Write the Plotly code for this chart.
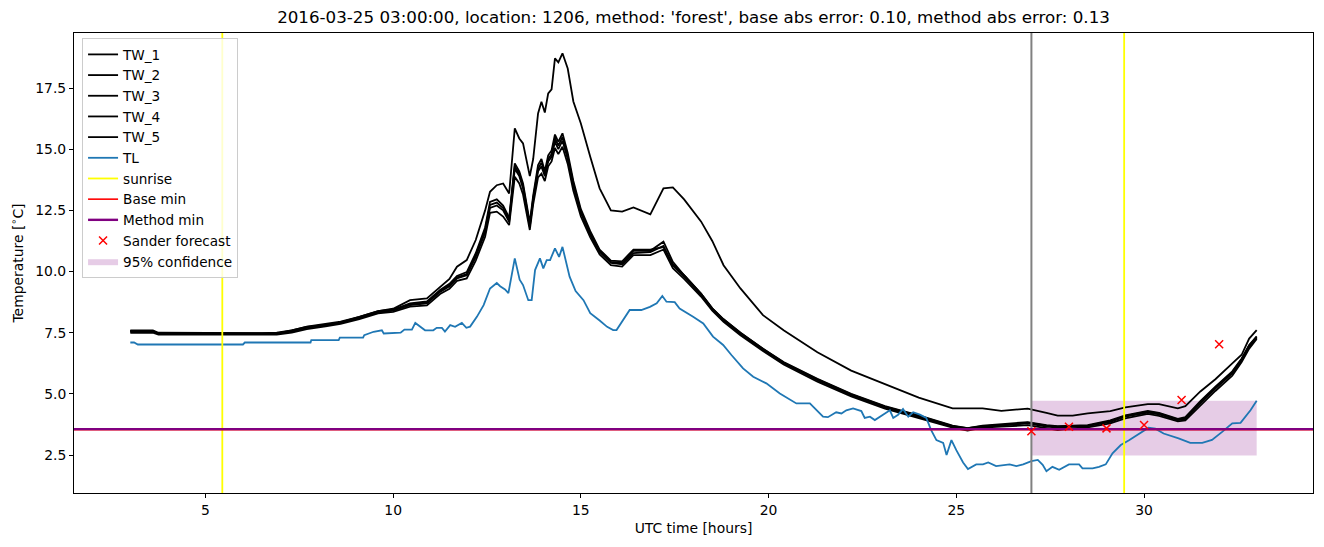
import plotly.graph_objects as go

# ---------------- data ----------------
T_TW = [3.0, 3.6, 3.75, 5.0, 6.5, 6.9, 7.3, 7.7, 8.2, 8.6, 9.1, 9.6, 10.0, 10.45, 10.9, 11.25, 11.5, 11.7,
        11.96, 12.2, 12.45, 12.58, 12.76, 12.93, 13.09, 13.24, 13.36, 13.46, 13.64, 13.73, 13.86, 13.95,
        14.04, 14.13, 14.22, 14.31, 14.4, 14.51, 14.65, 14.8, 15.0, 15.25, 15.5, 15.8, 16.1, 16.4, 16.85,
        17.2, 17.45, 17.75, 18.2, 18.5, 18.8, 19.25, 19.85, 20.4, 21.3, 22.2, 23.1, 24.0, 24.9, 25.3, 25.7,
        26.2, 26.9, 27.4, 27.7, 28.1, 28.5, 29.1, 29.5, 30.1, 30.4, 30.9, 31.1, 31.5, 31.9, 32.35, 32.6,
        32.8, 33.0]

TW_1 = [7.55, 7.55, 7.47, 7.46, 7.45, 7.47, 7.6, 7.74, 7.82, 7.92, 8.15, 8.38, 8.48, 8.83, 8.9, 9.38, 9.7, 10.2,
        10.47, 11.29, 12.5, 13.26, 13.53, 13.6, 13.19, 15.85, 15.44, 15.24, 13.9, 14.6, 16.46, 16.94,
        16.5, 17.28, 17.45, 18.71, 18.55, 18.92, 18.3, 16.95, 16.05, 14.69, 13.4, 12.5, 12.45, 12.62, 12.34,
        13.4, 13.44, 12.95, 12.05, 11.25, 10.26, 9.31, 8.22, 7.6, 6.7, 5.95, 5.4, 4.85, 4.41, 4.41, 4.41,
        4.31, 4.4, 4.22, 4.11, 4.11, 4.2, 4.3, 4.45, 4.58, 4.58, 4.41, 4.5, 5.1, 5.6, 6.25, 6.6,
        7.26, 7.61]

TW_2 = [7.6, 7.6, 7.5, 7.48, 7.48, 7.5, 7.6, 7.75, 7.85, 7.95, 8.15, 8.38, 8.45, 8.7, 8.78, 9.25, 9.5, 9.82,
        9.98, 10.75, 11.8, 12.85, 12.95, 12.7, 12.2, 14.42, 14.1, 13.6, 12.0, 13.1, 14.35, 14.6,
        14.1, 14.75, 14.95, 15.6, 15.3, 15.65, 14.85, 13.7, 12.55, 11.65, 10.9, 10.45, 10.42, 10.9, 10.9,
        11.0, 10.3, 9.85, 9.1, 8.5, 8.05, 7.5, 6.85, 6.3, 5.62, 5.0, 4.5, 4.12, 3.7, 3.6, 3.7,
        3.75, 3.85, 3.72, 3.68, 3.7, 3.72, 3.92, 4.12, 4.3, 4.22, 3.98, 4.05, 4.7, 5.3, 5.92, 6.45,
        7.0, 7.35]

TW_3 = [7.55, 7.55, 7.45, 7.44, 7.44, 7.45, 7.55, 7.7, 7.8, 7.9, 8.1, 8.33, 8.4, 8.63, 8.7, 9.17, 9.4, 9.72,
        9.85, 10.6, 11.6, 12.6, 12.7, 12.5, 12.03, 14.2, 13.9, 13.4, 11.83, 12.92, 14.1, 14.3,
        13.9, 14.5, 14.69, 15.3, 15.0, 15.35, 14.6, 13.5, 12.4, 11.5, 10.8, 10.35, 10.3, 10.75, 10.8,
        11.05, 10.25, 9.79, 9.05, 8.45, 8.0, 7.45, 6.8, 6.25, 5.56, 4.95, 4.45, 4.07, 3.66, 3.55, 3.66,
        3.7, 3.8, 3.66, 3.62, 3.66, 3.68, 3.86, 4.07, 4.24, 4.16, 3.93, 3.98, 4.61, 5.22, 5.84, 6.38,
        6.93, 7.3]

TW_4 = [7.5, 7.5, 7.42, 7.41, 7.41, 7.42, 7.5, 7.65, 7.76, 7.86, 8.06, 8.29, 8.35, 8.57, 8.62, 9.08, 9.3, 9.62,
        9.72, 10.45, 11.42, 12.4, 12.45, 12.25, 11.9, 13.87, 13.6, 13.15, 11.7, 12.75, 13.85, 14.0,
        13.7, 14.3, 14.5, 15.05, 14.8, 15.1, 14.4, 13.3, 12.25, 11.4, 10.7, 10.26, 10.2, 10.67, 10.67,
        10.9, 10.14, 9.7, 8.98, 8.4, 7.95, 7.4, 6.75, 6.2, 5.5, 4.9, 4.4, 4.02, 3.62, 3.5, 3.62,
        3.66, 3.72, 3.6, 3.52, 3.6, 3.63, 3.8, 4.0, 4.18, 4.1, 3.88, 3.92, 4.52, 5.12, 5.75, 6.3,
        6.85, 7.25]

TW_5 = [7.58, 7.58, 7.47, 7.46, 7.46, 7.47, 7.57, 7.72, 7.82, 7.92, 8.12, 8.35, 8.42, 8.66, 8.74, 9.2, 9.45, 9.77,
        9.9, 10.68, 11.7, 12.72, 12.82, 12.6, 12.1, 14.3, 14.0, 13.5, 11.9, 13.0, 14.2, 14.45,
        14.0, 14.6, 14.8, 15.45, 15.15, 15.5, 14.7, 13.6, 12.45, 11.55, 10.85, 10.4, 10.35, 10.85, 10.85,
        11.22, 10.4, 9.85, 9.1, 8.5, 8.05, 7.5, 6.85, 6.28, 5.6, 4.98, 4.48, 4.1, 3.68, 3.6, 3.68,
        3.72, 3.82, 3.7, 3.66, 3.68, 3.7, 3.88, 4.1, 4.27, 4.2, 3.95, 4.0, 4.65, 5.26, 5.88, 6.42,
        6.98, 7.33]

T_TL = [3.0, 3.1, 3.2, 6.0, 6.05, 7.8, 7.82, 8.55, 8.58, 9.2, 9.23, 9.48, 9.7, 9.75, 10.2, 10.3, 10.5, 10.59,
        10.85, 11.07, 11.16, 11.3, 11.38, 11.52, 11.65, 11.83, 11.95, 12.05, 12.23, 12.41, 12.58, 12.76,
        12.85, 12.98, 13.07, 13.24, 13.37, 13.46, 13.6, 13.69, 13.78, 13.91, 14.0, 14.09, 14.18, 14.31,
        14.42, 14.51, 14.7, 14.86, 15.07, 15.25, 15.5, 15.7, 15.86, 15.95, 16.3, 16.61, 16.84, 17.02, 17.17,
        17.28, 17.5, 17.63, 17.99, 18.26, 18.52, 18.79, 19.01, 19.32, 19.59, 19.94, 20.3, 20.74, 21.1,
        21.27, 21.45, 21.58, 21.8, 21.94, 22.07, 22.25, 22.47, 22.56, 22.7, 22.83, 23.05, 23.23, 23.32,
        23.45, 23.58, 23.72, 23.85, 24.03, 24.2, 24.33, 24.47, 24.65, 24.74, 24.87, 25.0, 25.18, 25.31,
        25.53, 25.71, 25.85, 26.06, 26.42, 26.6, 26.78, 27.0, 27.17, 27.3, 27.4, 27.56, 27.74, 28.0, 28.27,
        28.36, 28.63, 28.8, 28.98, 29.16, 29.38, 29.6, 29.86, 30.12, 30.3, 30.52, 30.92, 31.23, 31.55,
        31.81, 32.08, 32.35, 32.57, 32.7, 32.84, 33.0]

TL = [7.1, 7.1, 7.02, 7.02, 7.1, 7.1, 7.2, 7.2, 7.3, 7.3, 7.4, 7.54, 7.6, 7.47, 7.5, 7.63, 7.63, 7.9,
      7.6, 7.6, 7.7, 7.7, 7.55, 7.81, 7.74, 7.9, 7.7, 7.75, 8.15, 8.63, 9.31, 9.53,
      9.4, 9.27, 9.12, 10.54, 9.67, 9.45, 8.83, 8.83, 10.06, 10.54, 10.13, 10.47, 10.47, 10.95,
      10.6, 11.01, 9.79, 9.2, 8.83, 8.3, 8.0, 7.74, 7.61, 7.61, 8.43, 8.43, 8.56, 8.7, 9.0,
      8.77, 8.75, 8.49, 8.15, 7.88, 7.34, 7.0, 6.59, 6.04, 5.7, 5.43, 5.02, 4.61, 4.61,
      4.33, 4.07, 4.05, 4.25, 4.2, 4.33, 4.41, 4.3, 4.02, 4.07, 3.93, 4.15, 4.33, 4.02,
      4.15, 4.38, 4.07, 4.25, 4.15, 4.02, 3.52, 3.11, 3.0, 2.5, 3.11, 2.7, 2.2, 1.93,
      2.12, 2.12, 2.2, 2.05, 2.12, 2.05, 2.12, 2.25, 2.3, 2.1, 1.84, 2.02, 1.9, 2.12, 2.12,
      1.96, 1.96, 2.02, 2.12, 2.57, 2.91, 3.11, 3.38, 3.62, 3.58, 3.38, 3.18, 3.0, 3.0,
      3.12, 3.45, 3.8, 3.82, 4.07, 4.34, 4.72]

SUNRISE = [5.45, 29.47]
FORECAST_START = 27.0
BASE_MIN = 3.535
METHOD_MIN = 3.56

T_FC = [27.0, 28.0, 29.0, 30.0, 31.0, 32.0]
FC = [3.47, 3.66, 3.59, 3.73, 4.75, 7.03]

CONF_T = [27.0, 33.0]
CONF_LOW = [2.48, 2.48]
CONF_HIGH = [4.72, 4.72]

TITLE = "2016-03-25 03:00:00, location: 1206, method: 'forest', base abs error: 0.10, method abs error: 0.13"

# ---------------- layout constants ----------------
X_RANGE = [1.5, 34.5]
Y_RANGE = [0.95, 19.75]
FONT = "DejaVu Sans"
FS = 13.9

fig = go.Figure()

# confidence band (drawn first, listed last in legend)
fig.add_trace(go.Scatter(
    x=CONF_T + CONF_T[::-1], y=CONF_HIGH + CONF_LOW[::-1], fill="toself",
    fillcolor="rgba(128,0,128,0.2)", line=dict(width=0), mode="lines",
    name="95% confidence", legendrank=11, hoverinfo="skip"))

for i, (name, vals) in enumerate([("TW_1", TW_1), ("TW_2", TW_2), ("TW_3", TW_3),
                                   ("TW_4", TW_4), ("TW_5", TW_5)]):
    fig.add_trace(go.Scatter(x=T_TW, y=vals, mode="lines", name=name,
                             line=dict(color="black", width=1.8), legendrank=i + 1))

fig.add_trace(go.Scatter(x=T_TL, y=TL, mode="lines", name="TL",
                         line=dict(color="#1f77b4", width=1.8), legendrank=6))

# sunrise vertical lines
for j, s in enumerate(SUNRISE):
    fig.add_trace(go.Scatter(x=[s, s], y=Y_RANGE, mode="lines", name="sunrise",
                             line=dict(color="yellow", width=1.8), showlegend=(j == 0),
                             legendrank=7))

# forecast start line
fig.add_trace(go.Scatter(x=[FORECAST_START, FORECAST_START], y=Y_RANGE, mode="lines",
                         line=dict(color="gray", width=2), showlegend=False))

fig.add_trace(go.Scatter(x=X_RANGE, y=[BASE_MIN, BASE_MIN], mode="lines", name="Base min",
                         line=dict(color="red", width=1.6), legendrank=8))
fig.add_trace(go.Scatter(x=X_RANGE, y=[METHOD_MIN, METHOD_MIN], mode="lines", name="Method min",
                         line=dict(color="purple", width=2.4), legendrank=9))

fig.add_trace(go.Scatter(x=T_FC, y=FC, mode="markers", name="Sander forecast",
                         marker=dict(symbol="x-thin", size=8, color="red",
                                     line=dict(color="red", width=1.5)), legendrank=10))

axis_common = dict(showgrid=False, zeroline=False, showline=True, mirror=True,
                   linecolor="black", linewidth=1, ticks="outside", ticklen=4,
                   tickcolor="black", tickwidth=1,
                   tickfont=dict(family=FONT, size=FS, color="black"))

fig.update_layout(
    width=1324, height=547,
    margin=dict(l=74, r=11, t=33, b=54),
    paper_bgcolor="white", plot_bgcolor="white",
    font=dict(family=FONT, size=FS, color="black"),
    title=dict(text=TITLE, x=0.5, xref="paper", xanchor="center",
               y=1 - 17 / 547, yref="container", yanchor="middle",
               font=dict(family=FONT, size=16.7, color="black")),
    xaxis=dict(range=X_RANGE, tick0=0, dtick=5,
               title=dict(text="UTC time [hours]", standoff=6,
                          font=dict(family=FONT, size=FS)), **axis_common),
    yaxis=dict(range=Y_RANGE, tick0=2.5, dtick=2.5, tickformat=".1f",
               title=dict(text="Temperature [<sup>∘</sup>C]", standoff=8,
                          font=dict(family=FONT, size=FS)), **axis_common),
    legend=dict(x=0.0065, y=0.989, xanchor="left", yanchor="top",
                bgcolor="rgba(255,255,255,0.8)", bordercolor="#cccccc", borderwidth=1,
                font=dict(family=FONT, size=13.6), traceorder="normal"),
    showlegend=True,
)

fig.write_html("out.html")
